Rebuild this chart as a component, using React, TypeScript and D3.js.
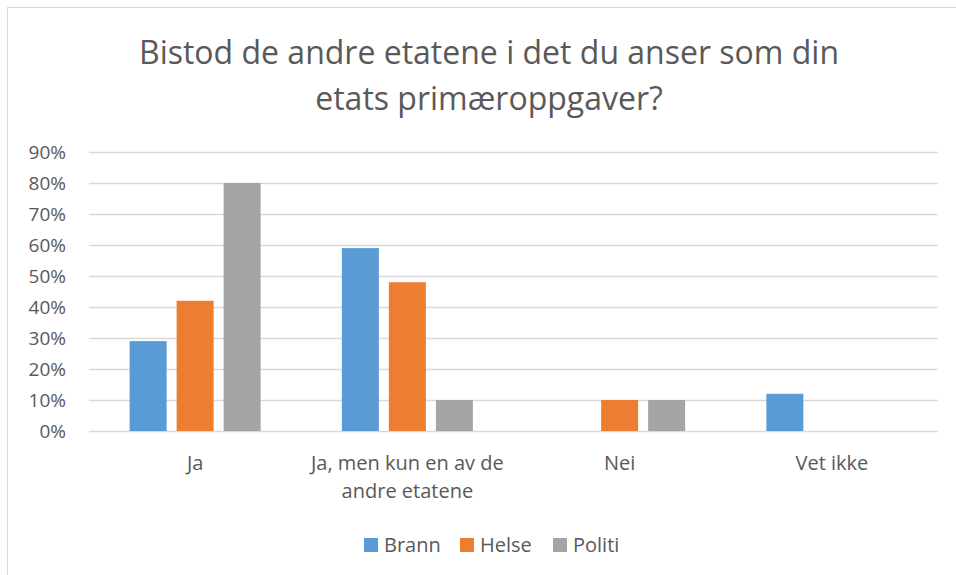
import React, { useEffect, useRef } from 'react';
import * as d3 from 'd3';

const categories = ['Ja', 'Ja, men kun en av de andre etatene', 'Nei', 'Vet ikke'];
const categoryLines = [['Ja'], ['Ja, men kun en av de', 'andre etatene'], ['Nei'], ['Vet ikke']];
const seriesNames = ['Brann', 'Helse', 'Politi'];
const brann = [0.29, 0.59, 0, 0.12];
const helse = [0.42, 0.48, 0.10, 0];
const politi = [0.80, 0.10, 0.10, 0];
const yTicks = [0, 0.1, 0.2, 0.3, 0.4, 0.5, 0.6, 0.7, 0.8, 0.9];
const colors = ['#5B9BD5', '#ED7D31', '#A5A5A5'];
const titleLines = ['Bistod de andre etatene i det du anser som din', 'etats primæroppgaver?'];

const App = () => {
  const svgRef = useRef(null);

  useEffect(() => {
    const width = 956;
    const height = 575;
    const margin = { top: 152, right: 18, bottom: 144, left: 89 };
    const font = "'Open Sans', sans-serif";
    const textColor = '#595959';

    const svg = d3.select(svgRef.current);
    svg.selectAll('*').remove();
    svg.attr('width', width).attr('height', height);

    // chart frame
    svg.append('rect')
      .attr('x', 7.5).attr('y', 7.5)
      .attr('width', 1000).attr('height', 1000)
      .attr('fill', 'white')
      .attr('stroke', '#D9D9D9');

    // title
    svg.append('g').selectAll('text')
      .data(titleLines)
      .join('text')
      .attr('x', 489)
      .attr('y', (d, i) => 64 + i * 46)
      .attr('text-anchor', 'middle')
      .attr('font-family', font)
      .attr('font-size', 32)
      .attr('fill', textColor)
      .text(d => d);

    const x = d3.scaleBand()
      .domain(categories)
      .range([margin.left, width - margin.right]);

    const xInner = d3.scaleBand()
      .domain(seriesNames)
      .range([0, x.bandwidth()])
      .paddingInner(0.213)
      .paddingOuter(0.864);

    const y = d3.scaleLinear()
      .domain([0, 0.9])
      .range([height - margin.bottom, margin.top]);

    // gridlines
    svg.append('g').selectAll('line')
      .data(yTicks)
      .join('line')
      .attr('x1', margin.left)
      .attr('x2', width - margin.right)
      .attr('y1', d => Math.round(y(d)) + 0.5)
      .attr('y2', d => Math.round(y(d)) + 0.5)
      .attr('stroke', '#D9D9D9')
      .attr('stroke-width', 1.3);

    // y tick labels
    svg.append('g').selectAll('text')
      .data(yTicks)
      .join('text')
      .attr('x', 66)
      .attr('y', d => y(d))
      .attr('dy', '0.35em')
      .attr('text-anchor', 'end')
      .attr('font-family', font)
      .attr('font-size', 19)
      .attr('fill', textColor)
      .text(d => d3.format('.0%')(d));

    // bars
    const series = [brann, helse, politi];
    series.forEach((values, si) => {
      svg.append('g').selectAll('rect')
        .data(values.map((v, i) => ({ cat: categories[i], v })))
        .join('rect')
        .attr('x', d => x(d.cat) + xInner(seriesNames[si]))
        .attr('y', d => y(d.v))
        .attr('width', xInner.bandwidth())
        .attr('height', d => y(0) - y(d.v))
        .attr('fill', colors[si]);
    });

    // category labels
    const catG = svg.append('g');
    categories.forEach((c, i) => {
      catG.append('text')
        .attr('x', x(c) + x.bandwidth() / 2)
        .attr('y', 470)
        .attr('text-anchor', 'middle')
        .attr('font-family', font)
        .attr('font-size', 20)
        .attr('fill', textColor)
        .selectAll('tspan')
        .data(categoryLines[i])
        .join('tspan')
        .attr('x', x(c) + x.bandwidth() / 2)
        .attr('dy', (d, j) => (j === 0 ? 0 : 28))
        .text(d => d);
    });

    // legend
    const legendX = [364, 460, 553];
    const legend = svg.append('g');
    seriesNames.forEach((name, i) => {
      legend.append('rect')
        .attr('x', legendX[i])
        .attr('y', 538)
        .attr('width', 14)
        .attr('height', 14)
        .attr('fill', colors[i]);
      legend.append('text')
        .attr('x', legendX[i] + 20)
        .attr('y', 552)
        .attr('font-family', font)
        .attr('font-size', 20)
        .attr('fill', textColor)
        .text(name);
    });
  }, []);

  return (
    <svg ref={svgRef} style={{ position: 'absolute', left: 0, top: 0, display: 'block' }}></svg>
  );
};

export default App;
